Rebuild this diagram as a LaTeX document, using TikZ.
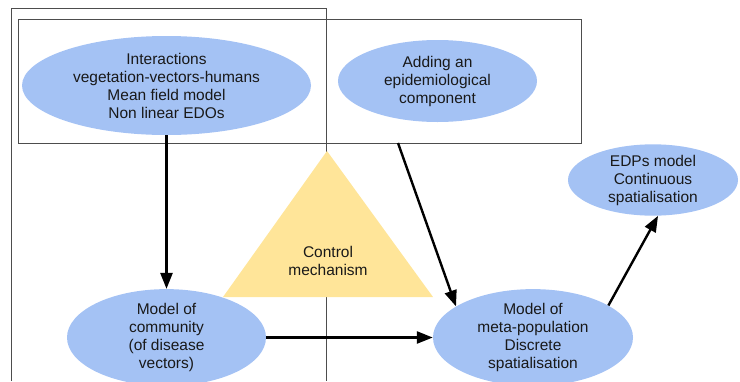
\documentclass[tikz,border=0pt]{standalone}
\usepackage{fontspec}
\setmainfont{Liberation Sans}
\usetikzlibrary{shapes.geometric,arrows.meta}
\definecolor{bubble}{HTML}{A4C2F4}
\definecolor{sand}{HTML}{FFE599}
\definecolor{frame}{HTML}{4D4D4D}
\begin{document}
\begin{tikzpicture}[x=1pt,y=-1pt,
  bubble/.style={ellipse,fill=bubble,inner sep=0pt,align=center,text=black!90,
    font=\fontsize{15.5}{18}\selectfont},
  flow/.style={line width=2.4pt,-{Triangle[length=16pt,width=12pt]}},
  framebox/.style={draw=frame,line width=1pt}]
\useasboundingbox (0,0) rectangle (740,381);

% open frame on the left and the top box
\draw[framebox] (11,381) -- (11,8.5) -- (326,8.5) -- (326,381);
\draw[framebox] (18,19) rectangle (581,143);
\coordinate (boxexit) at (398,143);

% control triangle
\fill[sand] (223,297) -- (433,297) -- (327,151) -- cycle;
\node[font=\fontsize{15.5}{18}\selectfont,align=center,text=black!90] (ctrl) at (328,261) {Control\\mechanism};

% model bubbles
\node[bubble,minimum width=289pt,minimum height=99pt] (inter) at (166.5,85.5)
  {Interactions\\vegetation-vectors-humans\\Mean field model\\Non linear EDOs};
\node[bubble,minimum width=199pt,minimum height=82pt] (epi) at (437.5,81)
  {Adding an\\epidemiological\\component};
\node[bubble,minimum width=170pt,minimum height=66pt] (edp) at (653,180)
  {EDPs model\\Continuous\\spatialisation};
\node[bubble,minimum width=199pt,minimum height=81pt] (comm) at (166.5,337.5)
  {Model of\\community\\(of disease\\vectors)};
\node[bubble,minimum width=200pt,minimum height=81pt] (meta) at (533,337.5)
  {Model of\\meta-population\\Discrete\\spatialisation};

% connectors
\draw[flow] (inter.south) -- (comm.north);
\draw[flow] (comm.east) -- (meta.west);
\draw[flow] (boxexit) -- (meta.158);
\draw[flow] (meta.23) -- (edp.-82);
\end{tikzpicture}
\end{document}
